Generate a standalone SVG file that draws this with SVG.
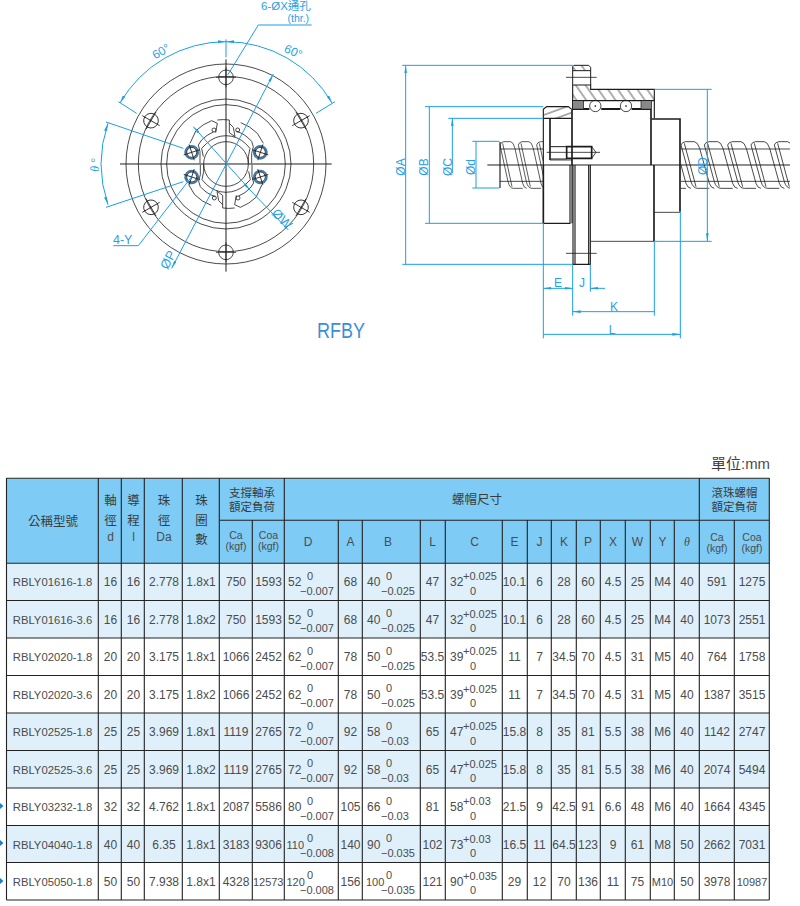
<svg xmlns="http://www.w3.org/2000/svg" xmlns:xlink="http://www.w3.org/1999/xlink" width="800" height="906" viewBox="0 0 800 906">
<style>
text{font-family:"Liberation Sans","Noto Sans CJK TC",sans-serif;fill:#4c4c4c;font-size:12px}
.m{text-anchor:middle}
.c{font-family:"Noto Sans CJK TC","Liberation Sans",sans-serif;font-size:12.5px;text-anchor:middle;fill:#3c3c3c}
.s{font-size:11.5px}
.f{font-size:10.5px}
.n{font-size:11.3px}
.t{font-size:11px}
.b{fill:#2a9fe4;font-size:12px}
.tl{fill:none;stroke:#222;stroke-width:1.1}
.k{fill:none;stroke:#1c1c1c;stroke-width:2.4}
.K{fill:none;stroke:#1c1c1c;stroke-width:5}
.u{fill:none;stroke:#1a9fe6;stroke-width:3}
.a{marker-start:url(#ah);marker-end:url(#ah)}
.hd{fill:#7ecbf5}.lt{fill:#dff0fb}
</style>
<defs>
<marker id="ah" viewBox="0 0 24 8" refX="24" refY="4" markerWidth="24" markerHeight="8" markerUnits="userSpaceOnUse" orient="auto-start-reverse"><path d="M0,0L24,4L0,8Z" fill="#1a9fe6"/></marker>
<pattern id="h1" patternUnits="userSpaceOnUse" width="24" height="24" patternTransform="rotate(-35)"><path d="M12,0V24" stroke="#222" stroke-width="2.2"/></pattern>
<pattern id="h2" patternUnits="userSpaceOnUse" width="22" height="22" patternTransform="rotate(70)"><path d="M11,0V22" stroke="#222" stroke-width="2.2"/></pattern>
<pattern id="h3" patternUnits="userSpaceOnUse" width="6" height="6" patternTransform="rotate(-45)"><rect width="6" height="6" fill="#fff"/><path d="M0,3H6" stroke="#111" stroke-width="3.4"/></pattern>
<clipPath id="cl"><rect x="328" y="272" width="132" height="146"/></clipPath>
<clipPath id="cr"><rect x="873" y="272" width="327" height="146"/></clipPath>
<g id="st"><path class="k" d="M0,285Q3,276 14,275H40Q50,276 56,295L85,400Q90,415 100,415"/><path class="k" d="M0,285L30,395Q36,415 50,415H85"/><path class="k" d="M10,280L45,410"/></g>
<g id="hole"><circle class="k" r="22"/><path class="k" d="M-30,0H30M0,-30V30"/></g>
<g id="tap"><circle r="19" fill="none" stroke="#3f7aa8" stroke-width="6"/><circle class="k" r="15"/><path class="k" d="M-25,0H25M0,-25V25"/></g>
<g id="half">
<path class="k" d="M60,100L78,62A135,135 0 0 1 125,32L142,40L137,68M142,30A133,133 0 0 1 178,30V68L195,80L190,52L178,40M212,38A132,132 0 0 1 262,70L280,100"/>
<path class="k" d="M130,66A103,103 0 0 0 95,90L85,105L90,125V160M200,64A103,103 0 0 1 245,94L250,110L245,130V160M110,100A85,85 0 0 1 226,100L240,115L235,140V160M110,100L95,115L100,140"/>
<circle class="k" cx="132" cy="60" r="6"/><circle class="k" cx="203" cy="60" r="6"/>
</g>
</defs>
<rect width="800" height="906" fill="#fff"/>

<g id="front-view" transform="translate(80,0) scale(.33333)">
<g class="k">
<circle cx="438" cy="492" r="300"/><circle cx="438" cy="492" r="263"/><circle cx="438" cy="492" r="195"/><circle cx="438" cy="492" r="178"/><circle cx="438" cy="492" r="67"/>
</g>
<g transform="translate(270,330)"><use xlink:href="#half"/><use xlink:href="#half" transform="rotate(180 168 162)"/></g>
<path class="k" style="stroke-width:3" d="M120,492H755M438,178V815"/>
<use xlink:href="#hole" x="438" y="232"/><use xlink:href="#hole" x="213" y="362" transform="rotate(-60 213 362)"/><use xlink:href="#hole" x="663" y="362" transform="rotate(60 663 362)"/><use xlink:href="#hole" x="213" y="622" transform="rotate(60 213 622)"/><use xlink:href="#hole" x="663" y="622" transform="rotate(-60 663 622)"/><use xlink:href="#hole" x="438" y="757"/>
<use xlink:href="#tap" x="335" y="457" transform="rotate(-18 335 457)"/><use xlink:href="#tap" x="335" y="531" transform="rotate(18 335 531)"/><use xlink:href="#tap" x="541" y="457" transform="rotate(18 541 457)"/><use xlink:href="#tap" x="541" y="531" transform="rotate(-18 541 531)"/>
</g>

<g id="front-dims" transform="translate(80,0) scale(.33333)">
<path class="u a" d="M120,309A367,367 0 0 1 438,125"/><path class="u a" d="M438,125A367,367 0 0 1 756,309"/>
<path class="u" d="M115,305L170,340M765,305L708,340M438,118V172"/>
<path class="u a" d="M84,370A374,374 0 0 0 84,614"/>
<path class="u" d="M78,366L310,445M78,622L310,545"/>
<path class="u a" d="M580,222L275,805"/><path class="u a" d="M340,380L510,570"/><path class="u" d="M510,570L625,690"/>
<path class="u" d="M695,75H535L443,225M100,737H175L335,530"/>
</g>
<text class="b" x="261" y="10" style="font-size:11.5px">6-ØX通孔</text>
<text class="b" x="287.5" y="22" style="font-size:10.5px">(thr.)</text>
<text class="b" transform="translate(163,55) rotate(-30)" text-anchor="middle">60°</text>
<text class="b" transform="translate(291.6,55.3) rotate(25)" text-anchor="middle">60°</text>
<text class="b" transform="translate(99,165) rotate(-90)" text-anchor="middle" style="font-family:'Liberation Serif',serif;font-style:italic">θ °</text>
<text class="b" x="113" y="244" style="font-size:12.5px">4-Y</text>
<text class="b" transform="translate(172,262) rotate(-62)" text-anchor="middle" style="font-size:13px">ØP</text>
<text class="b" transform="translate(279,222) rotate(45)" text-anchor="middle" style="font-size:13px">ØW</text>

<g id="section-view" transform="translate(390,50) scale(.33333)">
<path d="M548,62V50L552,46H596L602,52V62Z" fill="url(#h1)" stroke="none"/>
<path class="K" style="stroke-width:3" d="M548,105V50L552,46H596L602,52V105M548,62H602"/>
<path d="M548,105H602V118H793V152H548Z" fill="url(#h1)"/>
<path class="K" style="stroke-width:3.4" d="M548,105H602V118H793V205M548,105V178M548,152H793"/>
<rect x="548" y="152" width="33" height="26" fill="url(#h3)" stroke="#111" stroke-width="2"/>
<rect x="753" y="152" width="32" height="26" fill="url(#h3)" stroke="#111" stroke-width="2"/>
<circle cx="616" cy="168" r="17" fill="#fff" class="k"/><circle cx="708" cy="168" r="17" fill="#fff" class="k"/>
<circle cx="616" cy="168" r="2.5" fill="#111"/><circle cx="708" cy="168" r="2.5" fill="#111"/>
<path class="K" style="stroke-width:3.4" d="M581,176H598M634,176H691M725,176H753"/>
<path class="K" d="M546,178V345M783,178V345"/><path class="K" style="stroke-width:3.4" d="M548,178H598M634,178H691M725,178H783"/>
<path d="M460,178L470,170H535L545,178V205H460Z" fill="url(#h2)"/>
<path class="K" style="stroke-width:3.4" d="M460,345V178L470,170H535L545,178M460,205H545"/>
<path class="K" d="M480,205V330"/><path class="k" d="M480,330H546"/>
<path class="K" style="stroke-width:3" d="M482,290H530M482,327H530"/>
<path class="K" d="M530,290H605V325H530Z"/>
<path class="k" d="M605,290L618,307L605,325M470,307H630"/>
<path class="K" d="M785,207H870V485"/><path class="k" d="M793,487H870"/>
<path class="K" d="M792,345V574"/><path class="k" d="M602,574H792"/>
<path class="K" style="stroke-width:3.4" d="M549,345V643H601V345M555,345V643M596,345V643"/>
<path class="k" d="M528,82H620M528,610H620"/>
<path class="K" d="M460,345V520"/><path class="K" style="stroke-width:3.4" d="M460,520H540V345M546,345V520"/>
<g clip-path="url(#cl)"><use xlink:href="#st" transform="translate(330,0) scale(.8,1)"/><use xlink:href="#st" transform="translate(385,0) scale(.8,1)"/><use xlink:href="#st" transform="translate(440,0) scale(.8,1)"/></g>
<path class="K" style="stroke-width:3.4" d="M330,414V276"/><path class="k" d="M330,297H460M330,394H460"/>
<g clip-path="url(#cr)"><use xlink:href="#st" x="873"/><use xlink:href="#st" x="943"/><use xlink:href="#st" x="1013"/><use xlink:href="#st" x="1083"/><use xlink:href="#st" x="1153"/><use xlink:href="#st" x="803"/></g>
<path class="k" d="M873,297H1200M873,394H1200"/>
<path class="k" style="stroke-width:3" d="M292,345H1200"/>
</g>

<g id="section-dims" transform="translate(390,50) scale(.33333)">
<path class="u" d="M37,46H550M37,643H548M105,170H460M105,520H460M175,205H460M247,274H328M247,414H328M793,118H965M793,574H965"/>
<path class="u a" d="M47,46V643M118,170V520M258,274V414M952,118V574"/>
<path class="u" d="M187,205V370" marker-start="url(#ah)"/>
<path class="u" d="M460,520V865M548,643V797M601,643V725M793,574V797M871,485V865"/>
<path class="u a" d="M460,715H548"/>
<path class="u" d="M645,715H601" marker-end="url(#ah)"/>
<path class="u a" d="M548,785H793M460,853H871"/>
</g>
<g class="dl">
<text class="b" transform="translate(405,167) rotate(-90)" text-anchor="middle">ØA</text>
<text class="b" transform="translate(428,167) rotate(-90)" text-anchor="middle">ØB</text>
<text class="b" transform="translate(451.5,167) rotate(-90)" text-anchor="middle">ØC</text>
<text class="b" transform="translate(474.5,167) rotate(-90)" text-anchor="middle">Ød</text>
<text class="b" transform="translate(707,166) rotate(-90)" text-anchor="middle">ØD</text>
<text class="b m" x="558" y="287">E</text><text class="b m" x="582" y="287">J</text><text class="b m" x="614" y="311">K</text><text class="b m" x="612" y="334">L</text>
</g>
<text x="317" y="338" style="font-size:22px;fill:#3b8fd6" textLength="48" lengthAdjust="spacingAndGlyphs">RFBY</text>

<text class="c" x="726" y="469" style="font-size:15px">單位</text><text x="741" y="469" style="font-size:14px" textLength="29" lengthAdjust="spacingAndGlyphs">:mm</text>

<g id="table">
<rect class="hd" x="6.5" y="478.5" width="762.8" height="84.5"/>
<rect class="lt" x="6.5" y="563" width="762.8" height="75"/>
<rect class="lt" x="6.5" y="713" width="762.8" height="75"/>
<rect class="lt" x="6.5" y="825.5" width="762.8" height="37"/>
<path class="tl" d="M6.5,478.3H769.3M219.3,520.3H769.3M6.5,563.3H769.3M6.5,600.5H769.3M6.5,638H769.3M6.5,675.5H769.3M6.5,713H769.3M6.5,750.5H769.3M6.5,788H769.3M6.5,825.5H769.3M6.5,862.5H769.3M6.5,900H769.3"/>
<path class="tl" d="M6.5,478V900M98.3,478V900M121.3,478V900M144.3,478V900M182.3,478V900M219.3,478V900M284.3,478V900M699.3,478V900M769.3,478V900M252.3,520V900M338.3,520V900M362.3,520V900M420.3,520V900M445.3,520V900M502.3,520V900M527.3,520V900M551.3,520V900M576.3,520V900M600.3,520V900M625.3,520V900M650.3,520V900M674.3,520V900M734.3,520V900"/>
<g id="table-head">
<text class="c" x="53" y="526">公稱型號</text>
<text class="c" x="110.5" y="505">軸</text><text class="c" x="110.5" y="525">徑</text><text class="m" x="110.5" y="541">d</text>
<text class="c" x="133.5" y="505">導</text><text class="c" x="133.5" y="525">程</text><text class="m" x="133.5" y="541">l</text>
<text class="c" x="164" y="505">珠</text><text class="c" x="164" y="525">徑</text><text class="m" x="164" y="541">Da</text>
<text class="c" x="201.5" y="505">珠</text><text class="c" x="201.5" y="525">圈</text><text class="c" x="201.5" y="544">數</text>
<text class="c s" x="252" y="497">支撐軸承</text><text class="c s" x="252" y="510.5">額定負荷</text>
<text class="c" x="477" y="504">螺帽尺寸</text>
<text class="c s" x="734.5" y="497">滾珠螺帽</text><text class="c s" x="734.5" y="510.5">額定負荷</text>
<text class="m f" x="236" y="538.5">Ca</text><text class="m f" x="236" y="550">(kgf)</text>
<text class="m f" x="268.5" y="538.5">Coa</text><text class="m f" x="268.5" y="550">(kgf)</text>
<text class="m" x="308" y="546">D</text><text class="m" x="350.5" y="546">A</text><text class="m" x="388" y="546">B</text><text class="m" x="432.5" y="546">L</text><text class="m" x="474.5" y="546">C</text><text class="m" x="514.5" y="546">E</text><text class="m" x="539.5" y="546">J</text><text class="m" x="564" y="546">K</text><text class="m" x="588" y="546">P</text><text class="m" x="613" y="546">X</text><text class="m" x="637.5" y="546">W</text><text class="m" x="662.5" y="546">Y</text><text class="m" x="687" y="546" style="font-family:'Liberation Serif',serif;font-style:italic">θ</text>
<text class="m f" x="717" y="540.5">Ca</text><text class="m f" x="717" y="552">(kgf)</text>
<text class="m f" x="752" y="540.5">Coa</text><text class="m f" x="752" y="552">(kgf)</text>
</g>
<path d="M0,803L3.5,806L0,809ZM0,840L3.5,843L0,846ZM0,878L3.5,881L0,884Z" fill="#1a7fc8"/>

<g transform="translate(0,563)" id="row1"><text class="m n" x="52.5" y="23">RBLY01616-1.8</text><text class="m" x="110.5" y="23">16</text><text class="m" x="133.5" y="23">16</text><text class="m" x="164" y="23">2.778</text><text class="m" x="201" y="23">1.8x1</text><text class="m" x="236" y="23">750</text><text class="m" x="268.5" y="23">1593</text><text x="288" y="23">52</text><text class="m t" x="310" y="16.5">0</text><text class="m t" x="317" y="31.5">−0.007</text><text class="m" x="350.5" y="23">68</text><text x="367" y="23">40</text><text class="m t" x="389" y="16.5">0</text><text class="t" x="381" y="31.5">−0.025</text><text class="m" x="432.5" y="23">47</text><text x="450" y="23">32</text><text class="t" x="463" y="17">+0.025</text><text class="m t" x="473" y="31.5">0</text><text class="m" x="514.5" y="23">10.1</text><text class="m" x="539.5" y="23">6</text><text class="m" x="564" y="23">28</text><text class="m" x="588" y="23">60</text><text class="m" x="613" y="23">4.5</text><text class="m" x="637.5" y="23">25</text><text class="m" x="662.5" y="23">M4</text><text class="m" x="687" y="23">40</text><text class="m" x="717" y="23">591</text><text class="m" x="752" y="23">1275</text></g>
<g transform="translate(0,600.5)" id="row2"><text class="m n" x="52.5" y="23">RBLY01616-3.6</text><text class="m" x="110.5" y="23">16</text><text class="m" x="133.5" y="23">16</text><text class="m" x="164" y="23">2.778</text><text class="m" x="201" y="23">1.8x2</text><text class="m" x="236" y="23">750</text><text class="m" x="268.5" y="23">1593</text><text x="288" y="23">52</text><text class="m t" x="310" y="16.5">0</text><text class="m t" x="317" y="31.5">−0.007</text><text class="m" x="350.5" y="23">68</text><text x="367" y="23">40</text><text class="m t" x="389" y="16.5">0</text><text class="t" x="381" y="31.5">−0.025</text><text class="m" x="432.5" y="23">47</text><text x="450" y="23">32</text><text class="t" x="463" y="17">+0.025</text><text class="m t" x="473" y="31.5">0</text><text class="m" x="514.5" y="23">10.1</text><text class="m" x="539.5" y="23">6</text><text class="m" x="564" y="23">28</text><text class="m" x="588" y="23">60</text><text class="m" x="613" y="23">4.5</text><text class="m" x="637.5" y="23">25</text><text class="m" x="662.5" y="23">M4</text><text class="m" x="687" y="23">40</text><text class="m" x="717" y="23">1073</text><text class="m" x="752" y="23">2551</text></g>
<g transform="translate(0,638)" id="row3"><text class="m n" x="52.5" y="23">RBLY02020-1.8</text><text class="m" x="110.5" y="23">20</text><text class="m" x="133.5" y="23">20</text><text class="m" x="164" y="23">3.175</text><text class="m" x="201" y="23">1.8x1</text><text class="m" x="236" y="23">1066</text><text class="m" x="268.5" y="23">2452</text><text x="288" y="23">62</text><text class="m t" x="310" y="16.5">0</text><text class="m t" x="317" y="31.5">−0.007</text><text class="m" x="350.5" y="23">78</text><text x="367" y="23">50</text><text class="m t" x="389" y="16.5">0</text><text class="t" x="381" y="31.5">−0.025</text><text class="m" x="432.5" y="23">53.5</text><text x="450" y="23">39</text><text class="t" x="463" y="17">+0.025</text><text class="m t" x="473" y="31.5">0</text><text class="m" x="514.5" y="23">11</text><text class="m" x="539.5" y="23">7</text><text class="m" x="564" y="23">34.5</text><text class="m" x="588" y="23">70</text><text class="m" x="613" y="23">4.5</text><text class="m" x="637.5" y="23">31</text><text class="m" x="662.5" y="23">M5</text><text class="m" x="687" y="23">40</text><text class="m" x="717" y="23">764</text><text class="m" x="752" y="23">1758</text></g>
<g transform="translate(0,675.5)" id="row4"><text class="m n" x="52.5" y="23">RBLY02020-3.6</text><text class="m" x="110.5" y="23">20</text><text class="m" x="133.5" y="23">20</text><text class="m" x="164" y="23">3.175</text><text class="m" x="201" y="23">1.8x2</text><text class="m" x="236" y="23">1066</text><text class="m" x="268.5" y="23">2452</text><text x="288" y="23">62</text><text class="m t" x="310" y="16.5">0</text><text class="m t" x="317" y="31.5">−0.007</text><text class="m" x="350.5" y="23">78</text><text x="367" y="23">50</text><text class="m t" x="389" y="16.5">0</text><text class="t" x="381" y="31.5">−0.025</text><text class="m" x="432.5" y="23">53.5</text><text x="450" y="23">39</text><text class="t" x="463" y="17">+0.025</text><text class="m t" x="473" y="31.5">0</text><text class="m" x="514.5" y="23">11</text><text class="m" x="539.5" y="23">7</text><text class="m" x="564" y="23">34.5</text><text class="m" x="588" y="23">70</text><text class="m" x="613" y="23">4.5</text><text class="m" x="637.5" y="23">31</text><text class="m" x="662.5" y="23">M5</text><text class="m" x="687" y="23">40</text><text class="m" x="717" y="23">1387</text><text class="m" x="752" y="23">3515</text></g>
<g transform="translate(0,713)" id="row5"><text class="m n" x="52.5" y="23">RBLY02525-1.8</text><text class="m" x="110.5" y="23">25</text><text class="m" x="133.5" y="23">25</text><text class="m" x="164" y="23">3.969</text><text class="m" x="201" y="23">1.8x1</text><text class="m" x="236" y="23">1119</text><text class="m" x="268.5" y="23">2765</text><text x="288" y="23">72</text><text class="m t" x="310" y="16.5">0</text><text class="m t" x="317" y="31.5">−0.007</text><text class="m" x="350.5" y="23">92</text><text x="367" y="23">58</text><text class="m t" x="389" y="16.5">0</text><text class="t" x="381" y="31.5">−0.03</text><text class="m" x="432.5" y="23">65</text><text x="450" y="23">47</text><text class="t" x="463" y="17">+0.025</text><text class="m t" x="473" y="31.5">0</text><text class="m" x="514.5" y="23">15.8</text><text class="m" x="539.5" y="23">8</text><text class="m" x="564" y="23">35</text><text class="m" x="588" y="23">81</text><text class="m" x="613" y="23">5.5</text><text class="m" x="637.5" y="23">38</text><text class="m" x="662.5" y="23">M6</text><text class="m" x="687" y="23">40</text><text class="m" x="717" y="23">1142</text><text class="m" x="752" y="23">2747</text></g>
<g transform="translate(0,750.5)" id="row6"><text class="m n" x="52.5" y="23">RBLY02525-3.6</text><text class="m" x="110.5" y="23">25</text><text class="m" x="133.5" y="23">25</text><text class="m" x="164" y="23">3.969</text><text class="m" x="201" y="23">1.8x2</text><text class="m" x="236" y="23">1119</text><text class="m" x="268.5" y="23">2765</text><text x="288" y="23">72</text><text class="m t" x="310" y="16.5">0</text><text class="m t" x="317" y="31.5">−0.007</text><text class="m" x="350.5" y="23">92</text><text x="367" y="23">58</text><text class="m t" x="389" y="16.5">0</text><text class="t" x="381" y="31.5">−0.03</text><text class="m" x="432.5" y="23">65</text><text x="450" y="23">47</text><text class="t" x="463" y="17">+0.025</text><text class="m t" x="473" y="31.5">0</text><text class="m" x="514.5" y="23">15.8</text><text class="m" x="539.5" y="23">8</text><text class="m" x="564" y="23">35</text><text class="m" x="588" y="23">81</text><text class="m" x="613" y="23">5.5</text><text class="m" x="637.5" y="23">38</text><text class="m" x="662.5" y="23">M6</text><text class="m" x="687" y="23">40</text><text class="m" x="717" y="23">2074</text><text class="m" x="752" y="23">5494</text></g>
<g transform="translate(0,788)" id="row7"><text class="m n" x="52.5" y="23">RBLY03232-1.8</text><text class="m" x="110.5" y="23">32</text><text class="m" x="133.5" y="23">32</text><text class="m" x="164" y="23">4.762</text><text class="m" x="201" y="23">1.8x1</text><text class="m" x="236" y="23">2087</text><text class="m" x="268.5" y="23">5586</text><text x="288" y="23">80</text><text class="m t" x="310" y="16.5">0</text><text class="m t" x="317" y="31.5">−0.007</text><text class="m" x="350.5" y="23">105</text><text x="367" y="23">66</text><text class="m t" x="389" y="16.5">0</text><text class="t" x="381" y="31.5">−0.03</text><text class="m" x="432.5" y="23">81</text><text x="450" y="23">58</text><text class="t" x="463" y="17">+0.03</text><text class="m t" x="473" y="31.5">0</text><text class="m" x="514.5" y="23">21.5</text><text class="m" x="539.5" y="23">9</text><text class="m" x="564" y="23">42.5</text><text class="m" x="588" y="23">91</text><text class="m" x="613" y="23">6.6</text><text class="m" x="637.5" y="23">48</text><text class="m" x="662.5" y="23">M6</text><text class="m" x="687" y="23">40</text><text class="m" x="717" y="23">1664</text><text class="m" x="752" y="23">4345</text></g>
<g transform="translate(0,825.5)" id="row8"><text class="m n" x="52.5" y="23">RBLY04040-1.8</text><text class="m" x="110.5" y="23">40</text><text class="m" x="133.5" y="23">40</text><text class="m" x="164" y="23">6.35</text><text class="m" x="201" y="23">1.8x1</text><text class="m" x="236" y="23">3183</text><text class="m" x="268.5" y="23">9306</text><text x="286.5" y="23" class="t">110</text><text class="m t" x="310" y="16.5">0</text><text class="m t" x="317" y="31.5">−0.008</text><text class="m" x="350.5" y="23">140</text><text x="367" y="23">90</text><text class="m t" x="389" y="16.5">0</text><text class="t" x="381" y="31.5">−0.035</text><text class="m" x="432.5" y="23">102</text><text x="450" y="23">73</text><text class="t" x="463" y="17">+0.03</text><text class="m t" x="473" y="31.5">0</text><text class="m" x="514.5" y="23">16.5</text><text class="m" x="539.5" y="23">11</text><text class="m" x="564" y="23">64.5</text><text class="m" x="588" y="23">123</text><text class="m" x="613" y="23">9</text><text class="m" x="637.5" y="23">61</text><text class="m" x="662.5" y="23">M8</text><text class="m" x="687" y="23">50</text><text class="m" x="717" y="23">2662</text><text class="m" x="752" y="23">7031</text></g>
<g transform="translate(0,862.5)" id="row9"><text class="m n" x="52.5" y="23">RBLY05050-1.8</text><text class="m" x="110.5" y="23">50</text><text class="m" x="133.5" y="23">50</text><text class="m" x="164" y="23">7.938</text><text class="m" x="201" y="23">1.8x1</text><text class="m" x="236" y="23">4328</text><text class="m t" x="268.2" y="23">12573</text><text x="286.5" y="23" class="t">120</text><text class="m t" x="310" y="16.5">0</text><text class="m t" x="317" y="31.5">−0.008</text><text class="m" x="350.5" y="23">156</text><text x="366" y="23" class="t">100</text><text class="m t" x="389" y="16.5">0</text><text class="t" x="381" y="31.5">−0.035</text><text class="m" x="432.5" y="23">121</text><text x="450" y="23">90</text><text class="t" x="463" y="17">+0.035</text><text class="m t" x="473" y="31.5">0</text><text class="m" x="514.5" y="23">29</text><text class="m" x="539.5" y="23">12</text><text class="m" x="564" y="23">70</text><text class="m" x="588" y="23">136</text><text class="m" x="613" y="23">11</text><text class="m" x="637.5" y="23">75</text><text class="m t" x="662.5" y="23">M10</text><text class="m" x="687" y="23">50</text><text class="m" x="717" y="23">3978</text><text class="m t" x="752" y="23">10987</text></g>
</g>
</svg>
